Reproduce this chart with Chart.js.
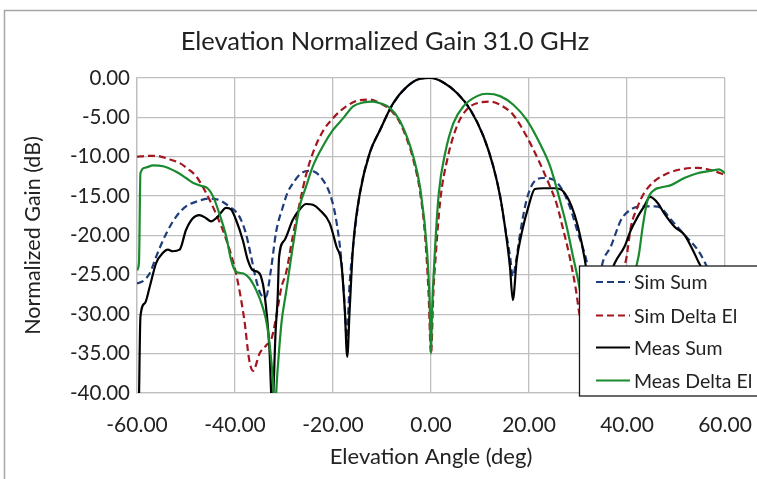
<!DOCTYPE html>
<html>
<head>
<meta charset="utf-8">
<title>Elevation Normalized Gain 31.0 GHz</title>
<script src="https://cdn.jsdelivr.net/npm/chart.js@4.4.1/dist/chart.umd.min.js"></script>
<style>
  html, body { margin: 0; padding: 0; background: #ffffff; }
  #wrap { position: relative; width: 757px; height: 479px; }
</style>
</head>
<body>
<div id="wrap"><canvas id="chart" width="757" height="479"></canvas></div>
<script>
// values (angle in deg, gain in dB)
var chartTitle = "Elevation Normalized Gain 31.0 GHz";
var seriesNames = ["Sim Sum", "Sim Delta El", "Meas Sum", "Meas Delta El"];
var xTicks = [-60, -40, -20, 0, 20, 40, 60];
var yTicks = [0, -5, -10, -15, -20, -25, -30, -35, -40];

var simSumX = [-60, -58.8, -57.4, -56.1, -54, -52, -50, -47.9, -45.2, -43.2, -41.2, -39.1, -37.8, -36.7, -35.7, -34.7, -33.7, -32.7, -31.6, -30.3, -29.3, -28, -26.5, -25, -23.5, -22, -20.7, -19.5, -18.3, -17.6, -17.2, -16.6, -15.9, -14.5, -12.5, -10.4, -7.7, -4.9, -2.2, 0, 2.6, 5.3, 8, 10.7, 12.7, 14.1, 15.1, 16.1, 16.7, 17.3, 18.2, 19.5, 20.9, 22.9, 24.9, 26.6, 28.3, 30, 31.7, 33, 34, 35, 36.7, 38.8, 40.8, 42.9, 45.6, 46.9, 49, 51.7, 54.4, 55.8, 57, 58, 60];
var simSumY = [-26.1, -25.8, -24.8, -22.7, -19.7, -17.6, -16.3, -15.7, -15.3, -15.5, -16.3, -17.6, -19.7, -22.7, -25.6, -27.5, -27.8, -24.5, -19.5, -16.5, -14.6, -13.2, -12.1, -11.8, -12.0, -13.0, -14.6, -17.5, -23.1, -29, -33, -26, -21.4, -14.6, -9.5, -6.6, -3.2, -1.1, -0.1, 0, -0.6, -1.9, -4, -7.4, -11.2, -15, -18.9, -22.5, -25.2, -23.5, -19.7, -15.5, -13.3, -12.7, -12.9, -14, -16.3, -19.7, -23.1, -27, -27, -23.5, -21.4, -18, -16.7, -16.3, -16.3, -16.5, -18, -19.9, -21.8, -23.3, -25, -27, -28];

var simDeltaX = [-60, -58, -56, -53.5, -51.3, -49.5, -47.9, -45.9, -43.9, -41.8, -39.8, -38.1, -37.1, -36.3, -35, -33.7, -32.5, -31.5, -30.5, -29.6, -28.2, -26.8, -25.5, -24.1, -22.1, -20, -17.3, -14.5, -12.5, -10.4, -8.4, -6.3, -4.9, -3.6, -2.2, -1.2, -0.5, 0, 0.5, 0.9, 1.9, 3.3, 5.3, 7.3, 10, 12.1, 14.1, 16.8, 19.5, 22.2, 24.3, 25.6, 27, 28.3, 29.6, 30.3, 32, 34, 36, 38, 39.8, 40.8, 42.2, 43.5, 45.6, 48.3, 51, 54.4, 57.1, 60];
var simDeltaY = [-10.0, -9.9, -9.9, -10.3, -10.8, -11.6, -12.5, -14.6, -17.2, -20.5, -24.8, -30.7, -35.8, -37.2, -35, -34, -33, -30, -26.5, -24.8, -20.1, -15.9, -12.3, -9.5, -6.8, -5.1, -3.6, -2.8, -2.75, -3.2, -4, -5.7, -7.8, -10.4, -14.6, -20.1, -27.3, -35, -27, -23.1, -15.5, -10.4, -6.1, -4, -3.1, -3, -3.4, -4.7, -7.4, -10.8, -13.8, -15.9, -19.3, -22.7, -27, -30, -34, -33, -30, -26, -23.1, -18.9, -16.3, -14.6, -13.1, -12.1, -11.6, -11.4, -11.7, -12.3];

var measSumX = [-59.6, -59.3, -58.4, -57.4, -56.1, -54.7, -53.7, -52.7, -51.3, -50, -48.6, -47.3, -45.9, -44.9, -43.5, -41.8, -40.8, -39.8, -38.4, -37.4, -36.4, -35.4, -34.7, -34, -33, -32.4, -31.7, -31.3, -31, -29.9, -28.2, -26.8, -25.5, -24.1, -22.8, -20.7, -19.3, -18.3, -17.6, -17.1, -16.6, -15.9, -14.5, -12.5, -10.4, -7.7, -4.9, -2.2, 0, 2.6, 5.3, 8, 10.7, 12.7, 14.1, 15.1, 16.1, 16.7, 17.5, 18.5, 19.9, 21.2, 22.9, 25.3, 27, 28.7, 30, 31.4, 32.5, 34, 35.5, 37.5, 39.5, 40.8, 42.2, 43.5, 44.7, 46.3, 47.6, 49.7, 51.7, 53.4, 54.7, 56, 58, 60];
var measSumY = [-41, -30.3, -28.6, -26.5, -23.5, -22.2, -21.8, -22, -21.8, -19.3, -17.8, -17.4, -17.8, -18.2, -17.6, -16.5, -16.7, -18, -20.6, -23.1, -24.4, -24.6, -25.2, -27.3, -34.1, -42, -32, -28, -22.7, -20.6, -18, -16.7, -16, -16.1, -16.7, -18.4, -21.4, -23.5, -29.4, -35.4, -29.4, -21.4, -14.6, -9.5, -6.6, -3.2, -1.1, -0.1, 0, -0.6, -1.9, -4, -7.4, -11.2, -15, -18.9, -23.9, -28.2, -23.1, -19.7, -16.3, -14.1, -14, -14, -14.4, -16.3, -18.9, -23.1, -28, -30, -27, -23.5, -21.4, -19.3, -17.6, -16.3, -15.1, -15.9, -17.2, -18.9, -19.9, -21.8, -23.5, -25, -27, -29];

var measDeltaX = [-60, -59.6, -59.3, -58.4, -56.7, -54.7, -52, -50, -48.6, -46.9, -45.6, -44.5, -43.2, -41.8, -40.8, -39.8, -38.4, -37.1, -35.7, -34.4, -33.4, -32.3, -31.9, -31.3, -30.5, -29.6, -28.2, -26.8, -25.5, -24.1, -22.1, -20, -17.9, -15.9, -13.8, -11.8, -10.4, -8.4, -6.3, -3.6, -2.2, -0.8, -0.3, 0, 0.2, 0.7, 1.6, 2.9, 4.6, 6.6, 9.4, 11.4, 14.1, 16.8, 19.5, 22.2, 24.3, 26.3, 27.7, 29, 30, 31, 33, 35, 37, 39, 41, 42.4, 43.2, 44.2, 45.6, 46.9, 49, 51.7, 54.4, 57.8, 58.8, 60];
var measDeltaY = [-24.4, -23.5, -12.1, -11.4, -11.1, -11.2, -11.9, -12.7, -13.3, -13.7, -14, -15, -17.2, -20.1, -23.1, -24.6, -24.8, -25.4, -26.9, -29, -31.6, -38, -42, -37, -31, -27.3, -21.4, -16.3, -13.8, -11.2, -8.7, -6.6, -5.1, -3.6, -3.1, -3.0, -3.2, -3.8, -5.5, -10, -14, -22, -28, -35, -30, -23.1, -14.6, -9.5, -5.7, -3.6, -2.3, -2.0, -2.3, -3.4, -5.3, -8.3, -11.2, -15.5, -18.9, -22.7, -25.6, -29, -33, -35, -33, -29, -26, -22.5, -18.9, -15.5, -14.2, -13.9, -13.6, -12.7, -12.1, -11.7, -11.6, -12.1];

var lineColors = ["#1f3d7a", "#a3161f", "#000000", "#1a8a2e"];
var lineDashes = [[7, 4], [7, 4], [], []];

function toPoints(xs, ys) {
  var pts = [];
  for (var i = 0; i < xs.length; i++) {
    pts.push({ x: xs[i], y: ys[i] });
  }
  return pts;
}

var allX = [simSumX, simDeltaX, measSumX, measDeltaX];
var allY = [simSumY, simDeltaY, measSumY, measDeltaY];
var datasets = [];
for (var k = 0; k < seriesNames.length; k++) {
  datasets.push({
    label: seriesNames[k],
    data: toPoints(allX[k], allY[k]),
    borderColor: lineColors[k],
    backgroundColor: lineColors[k],
    borderWidth: 2.2,
    borderDash: lineDashes[k],
    pointRadius: 0,
    cubicInterpolationMode: "monotone",
    fill: false
  });
}
// draw measured on top like the reference
datasets[0].order = 3;
datasets[1].order = 2;
datasets[2].order = 1;
datasets[3].order = 0;

var textColor = "#222222";
var fontFamily = "Lato, 'Open Sans', sans-serif";

// frame, title and the boxed legend inside the plot
var decorPlugin = {
  id: "decor",
  beforeDraw: function (chart) {
    var ctx = chart.ctx;
    ctx.save();
    ctx.fillStyle = "#ffffff";
    ctx.fillRect(0, 0, chart.width, chart.height);
    ctx.strokeStyle = "#a6a6a6";
    ctx.lineWidth = 1.5;
    ctx.beginPath();
    ctx.moveTo(4.5, chart.height);
    ctx.lineTo(4.5, 10.5);
    ctx.lineTo(chart.width, 10.5);
    ctx.stroke();
    ctx.fillStyle = textColor;
    ctx.font = "25.5px " + fontFamily;
    ctx.textAlign = "center";
    ctx.textBaseline = "middle";
    ctx.fillText(chartTitle, 385, 42);
    ctx.restore();
  },
  afterDraw: function (chart) {
    var ctx = chart.ctx;
    var bx = 579.5, by = 266, bw = 190, bh = 130;
    ctx.save();
    ctx.fillStyle = "#ffffff";
    ctx.fillRect(bx, by, bw, bh);
    ctx.strokeStyle = "#1a1a1a";
    ctx.lineWidth = 1.3;
    ctx.strokeRect(bx, by, bw, bh);
    var rowY = [282, 315.5, 347.5, 380.5];
    ctx.font = "19.5px " + fontFamily;
    ctx.textAlign = "left";
    ctx.textBaseline = "middle";
    for (var i = 0; i < seriesNames.length; i++) {
      ctx.strokeStyle = lineColors[i];
      ctx.lineWidth = 2.2;
      ctx.setLineDash(lineDashes[i]);
      ctx.beginPath();
      ctx.moveTo(596, rowY[i]);
      ctx.lineTo(630, rowY[i]);
      ctx.stroke();
      ctx.setLineDash([]);
      ctx.fillStyle = textColor;
      ctx.fillText(seriesNames[i], 634, rowY[i] + 1);
    }
    ctx.restore();
  }
};

var ctx = document.getElementById("chart").getContext("2d");
var myChart = new Chart(ctx, {
  type: "line",
  data: { datasets: datasets },
  plugins: [decorPlugin],
  options: {
    responsive: false,
    animation: false,
    layout: { padding: { top: 78, right: 32, left: 0, bottom: 0 } },
    plugins: {
      legend: { display: false },
      title: { display: false },
      tooltip: { enabled: false }
    },
    scales: {
      x: {
        type: "linear",
        min: -60,
        max: 60,
        afterFit: function (scale) {
          scale.height = 86;
          scale.paddingLeft = 0;
          scale.paddingRight = 0;
        },
        afterBuildTicks: function (scale) {
          scale.ticks = xTicks.map(function (v) { return { value: v }; });
        },
        ticks: {
          color: textColor,
          font: { family: fontFamily, size: 21 },
          padding: 20,
          maxRotation: 0,
          callback: function (v) { return v.toFixed(2); }
        },
        grid: { color: "#bfbfbf", lineWidth: 1.3, drawTicks: false },
        border: { color: "#bfbfbf", width: 1.3 },
        title: {
          display: true,
          text: "Elevation Angle (deg)",
          color: textColor,
          font: { family: fontFamily, size: 22 },
          padding: { top: 0, bottom: 9 }
        }
      },
      y: {
        type: "linear",
        min: -40,
        max: 0,
        afterFit: function (scale) {
          scale.width = 137;
          scale.paddingTop = 0;
          scale.paddingBottom = 0;
        },
        afterBuildTicks: function (scale) {
          scale.ticks = yTicks.map(function (v) { return { value: v }; });
        },
        ticks: {
          color: textColor,
          font: { family: fontFamily, size: 20.5 },
          padding: 7,
          callback: function (v) { return v.toFixed(2); }
        },
        grid: { color: "#bfbfbf", lineWidth: 1.3, drawTicks: false },
        border: { color: "#bfbfbf", width: 1.3 },
        title: {
          display: true,
          text: "Normalized Gain (dB)",
          color: textColor,
          font: { family: fontFamily, size: 21.5 },
          padding: { top: 20, bottom: 0 }
        }
      }
    }
  }
});
</script>
</body>
</html>
